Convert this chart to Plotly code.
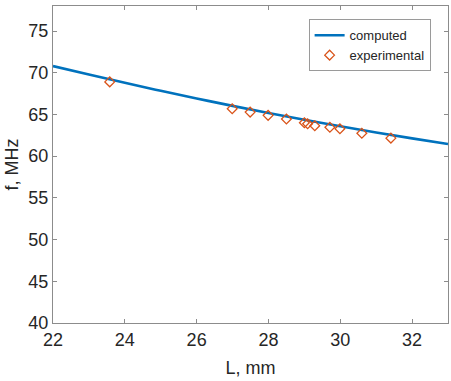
import plotly.graph_objects as go

# computed curve
L_comp = [22, 23, 24, 25, 26, 27, 28, 29, 30, 31, 32, 33]
f_comp = [70.80, 69.78, 68.79, 67.83, 66.91, 66.03, 65.18, 64.36, 63.58, 62.84, 62.13, 61.45]

# experimental points
L_exp = [23.58, 26.99, 27.49, 27.99, 28.50, 29.00, 29.09, 29.29, 29.71, 29.99, 30.60, 31.41]
f_exp = [68.90, 65.68, 65.28, 64.89, 64.45, 64.00, 63.88, 63.64, 63.47, 63.28, 62.75, 62.16]

x_ticks = [22, 24, 26, 28, 30, 32]
y_ticks = [40, 45, 50, 55, 60, 65, 70, 75]

FONT = "Liberation Sans, Arial, sans-serif"
AX = "#8c8c8c"

fig = go.Figure()
fig.add_trace(go.Scatter(x=L_comp, y=f_comp, mode="lines", name="computed",
                         line=dict(color="#0072BD", width=2.6, shape="spline")))
fig.add_trace(go.Scatter(x=L_exp, y=f_exp, mode="markers", name="experimental",
                         marker=dict(symbol="diamond-open", size=7.5, color="#D95319",
                                     line=dict(width=1.3, color="#D95319"))))

axis_common = dict(showgrid=False, zeroline=False, showline=True, linecolor=AX,
                   linewidth=1, mirror="ticks", ticks="inside", ticklen=4,
                   tickcolor=AX, automargin=False,
                   tickfont=dict(family=FONT, size=18, color="#262626"))

fig.update_layout(
    width=451, height=381,
    margin=dict(l=53, r=3, t=6, b=58, autoexpand=False),
    paper_bgcolor="white", plot_bgcolor="white",
    showlegend=True,
    legend=dict(x=0.956, y=0.958, xanchor="right", yanchor="top",
                bordercolor="#9a9a9a", borderwidth=1, bgcolor="white",
                font=dict(family=FONT, size=13, color="#262626"),
                itemwidth=30, tracegroupgap=0),
    xaxis=dict(range=[22, 33], tickvals=x_ticks,
               title=dict(text="L, mm", font=dict(family=FONT, size=18, color="#262626"), standoff=12),
               **axis_common),
    yaxis=dict(range=[40, 78], tickvals=y_ticks,
               title=dict(text="f, MHz", font=dict(family=FONT, size=18, color="#262626"), standoff=5),
               **axis_common),
)

fig.write_html("out.html", config={"displayModeBar": False},
               post_script="document.body.style.margin='0';document.body.style.overflow='hidden';")
